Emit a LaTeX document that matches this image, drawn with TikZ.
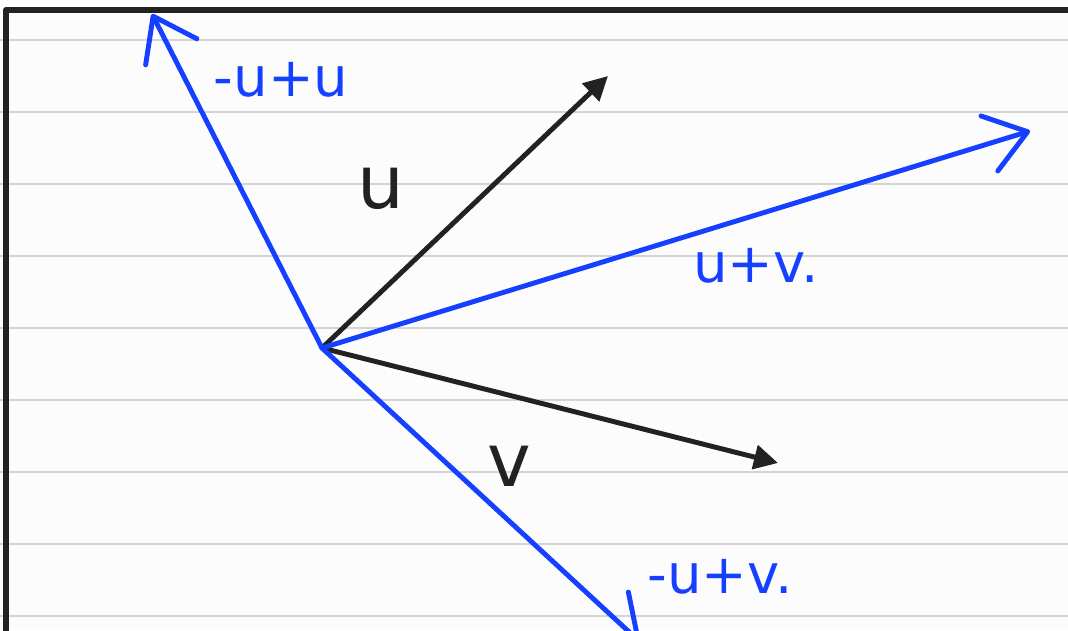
\documentclass[tikz,border=0pt]{standalone}
\usepackage{fontspec}
\setmainfont{DejaVu Sans}
\usepackage{xcolor}
\usetikzlibrary{arrows.meta, positioning}
\definecolor{ink}{RGB}{34,34,34}
\definecolor{penblue}{RGB}{22,64,255}
\definecolor{rule}{RGB}{212,212,212}
\definecolor{paper}{RGB}{252,252,252}
\tikzset{
  ruleline/.style={draw=rule, line width=1.2pt},
  frameline/.style={draw=ink, line width=3.4pt, line join=round},
  inkvec/.style={-{Triangle[length=0.48cm, width=0.48cm]}, draw=ink, line width=2.8pt},
  bluevec/.style={-{Straight Barb[round, length=0.8cm, width=1.15cm]}, draw=penblue,
    line width=2.8pt, line cap=round},
  inklabel/.style={text=ink, font=\fontsize{42}{42}\selectfont, inner sep=0pt},
  bluelabel/.style={text=penblue, font=\fontsize{31}{31}\selectfont, inner sep=0pt}
}
\begin{document}
\begin{tikzpicture}[x=0.02cm, y=-0.02cm]
\fill[paper] (0,0) rectangle (1068,630);
\useasboundingbox (0,0) rectangle (1068,630);
\clip (0,0) rectangle (1068,630);

% ruled paper
\foreach \k in {0,...,8} {
  \draw[ruleline] (0,40+72*\k) -- (1068,40+72*\k);
}
\draw[frameline] (1068,10) -- (6,10) -- (6,640);

\coordinate (o) at (322,348);
\coordinate (u) at (608,76);
\coordinate (v) at (778,463);
\coordinate (upv) at (1030,131);
\coordinate (umv) at (152,14);
\coordinate (vmu) at (640,642);

\draw[inkvec] (o) -- (u);
\draw[inkvec] (o) -- (v);
\draw[bluevec] (o) -- (upv);
\draw[bluevec] (o) -- (umv);
\draw[bluevec] (o) -- (vmu);

\node[inklabel] (ulab) at (381,188) {u};
\node[inklabel] (vlab) at (509,466) {v};
\node[bluelabel] (umvlab) at (281,80) {-u+u};
\node[bluelabel] (upvlab) at (756,266) {u+v.};
\node[bluelabel] (vmulab) at (720,577) {-u+v.};

\end{tikzpicture}
\end{document}
